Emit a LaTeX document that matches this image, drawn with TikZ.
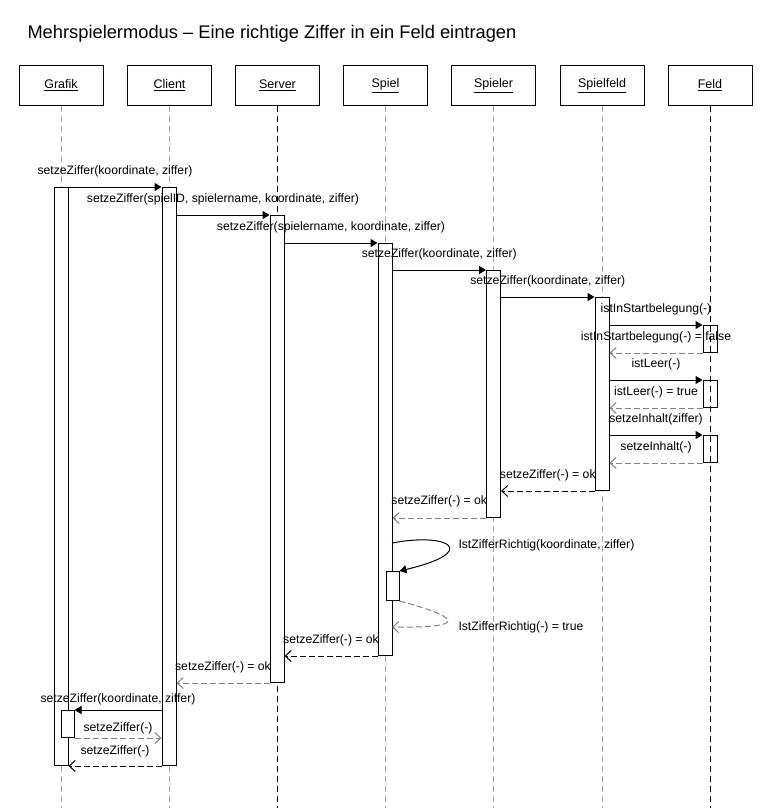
\documentclass[tikz,border=0pt]{standalone}
\usepackage{fontspec}
\setmainfont{Liberation Sans}
\usetikzlibrary{arrows.meta}

\begin{document}
\begin{tikzpicture}[x=1pt,y=-1pt,line width=1pt,
	   obj/.style={draw,minimum width=84pt,minimum height=39pt,inner sep=0pt,font=\fontsize{12.5}{14}\selectfont},
	   life/.style={dash pattern=on 6pt off 4pt,gray!70},
	   lifeblack/.style={dash pattern=on 6pt off 4pt,black},
	   act/.style={draw,fill=white,minimum width=14pt,inner sep=0pt,anchor=north},
	   call/.style={-{Triangle[length=7pt,width=8pt]}},
	   ret/.style={dash pattern=on 6pt off 3pt,gray,-{Straight Barb[length=6pt,width=11pt]}},
	   retblack/.style={ret,black},
	   lbl/.style={font=\fontsize{12.2}{14}\selectfont,text=black,inner sep=0pt,yshift=15.5pt}]
	   \useasboundingbox (0,0) rectangle (771,808);
	   \node [anchor=base west,inner sep=0pt,font=\fontsize{18.3}{21}\selectfont] (title) at (27,39) {Mehrspielermodus – Eine richtige Ziffer in ein Feld eintragen};
	   % objects
	   \node [obj] (hGrafik)    at (61,85.5)  {\underline{Grafik}};
	   \node [obj] (hClient)    at (169.5,85.5) {\underline{Client}};
	   \node [obj] (hServer)    at (277.5,85.5) {\underline{Server}};
	   \node [obj] (hSpiel)     at (385.5,85.5) {\underline{Spiel}};
	   \node [obj] (hSpieler)   at (493.5,85.5) {\underline{Spieler}};
	   \node [obj] (hSpielfeld) at (602,85.5)  {\underline{Spielfeld}};
	   \node [obj] (hFeld)      at (710,85.5)  {\underline{Feld}};
	   \foreach \n in {hGrafik,hClient,hSpiel,hSpieler,hSpielfeld}
	     \draw[life] (\n.south) -- ++(0,703);
	   \draw[lifeblack] (hServer.south) -- ++(0,703);
	   % activations
	   \node [act,minimum height=578pt] (aGrafik)    at (61,187) {};
	   \node [act,minimum height=578pt] (aClient)    at (169,187) {};
	   \node [act,minimum height=467pt] (aServer)    at (277,215) {};
	   \node [act,minimum height=412pt] (aSpiel)     at (385,243) {};
	   \node [act,minimum height=247pt] (aSpieler)   at (493.5,270) {};
	   \node [act,minimum height=193pt] (aSpielfeld) at (602,297) {};
	   \node [act,minimum height=27pt]  (aFeldA)     at (710,325) {};
	   \node [act,minimum height=27pt]  (aFeldB)     at (710,380) {};
	   \node [act,minimum height=27pt]  (aFeldC)     at (710,435) {};
	   \node [act,minimum height=29pt,minimum width=13pt] (aSpielSelf)  at (392.5,571) {};
	   \node [act,minimum height=27pt,minimum width=13pt] (aGrafikSelf) at (67.5,710) {};
	   \draw[lifeblack] (hFeld.south) -- ++(0,703);
	   \coordinate (selfOut) at (392,543);
	   \coordinate (selfIn)  at (392,627);
	   % messages
	   \draw[call] (aGrafik.north east) -- node[lbl] (l1) {setzeZiffer(koordinate, ziffer)} (aClient.north west);
	   \draw[call] (aClient.east |- aServer.north) -- node[lbl] (l2) {setzeZiffer(spielID, spielername, koordinate, ziffer)} (aServer.north west);
	   \draw[call] (aServer.east |- aSpiel.north) -- node[lbl] (l3) {setzeZiffer(spielername, koordinate, ziffer)} (aSpiel.north west);
	   \draw[call] (aSpiel.east |- aSpieler.north) -- node[lbl] (l4) {setzeZiffer(koordinate, ziffer)} (aSpieler.north west);
	   \draw[call] (aSpieler.east |- aSpielfeld.north) -- node[lbl] (l5) {setzeZiffer(koordinate, ziffer)} (aSpielfeld.north west);
	   \draw[call] (aSpielfeld.east |- aFeldA.north) -- node[lbl] (l6) {istInStartbelegung(-)} (aFeldA.north west);
	   \draw[ret] (aFeldA.south west) -- node[lbl] (l7) {istInStartbelegung(-) = false} (aSpielfeld.east |- aFeldA.south);
	   \draw[call] (aSpielfeld.east |- aFeldB.north) -- node[lbl] (l8) {istLeer(-)} (aFeldB.north west);
	   \draw[ret] (aFeldB.south west) -- node[lbl] (l9) {istLeer(-) = true} (aSpielfeld.east |- aFeldB.south);
	   \draw[call] (aSpielfeld.east |- aFeldC.north) -- node[lbl] (l10) {setzeInhalt(ziffer)} (aFeldC.north west);
	   \draw[ret] (aFeldC.south west) -- node[lbl] (l11) {setzeInhalt(-)} (aSpielfeld.east |- aFeldC.south);
	   \draw[retblack] (aSpielfeld.south west) -- node[lbl] (l12) {setzeZiffer(-) = ok} (aSpieler.east |- aSpielfeld.south);
	   \draw[ret] (aSpieler.south west) -- node[lbl,yshift=1.5pt] (l13) {setzeZiffer(-) = ok} (aSpiel.east |- aSpieler.south);
	   \draw[call] (selfOut) .. controls (450,532) and (480,552) .. (aSpielSelf.north east);
	   \node [lbl,yshift=-15.5pt,anchor=west] (l14) at (458,545) {IstZifferRichtig(koordinate, ziffer)};
	   \draw[ret] (aSpielSelf.south east) .. controls (470,620) and (460,628) .. (selfIn);
	   \node [lbl,yshift=-15.5pt,anchor=west] (l15) at (458,627) {IstZifferRichtig(-) = true};
	   \draw[retblack] (aSpiel.south west) -- node[lbl] (l16) {setzeZiffer(-) = ok} (aServer.east |- aSpiel.south);
	   \draw[ret] (aServer.south west) -- node[lbl] (l17) {setzeZiffer(-) = ok} (aClient.east |- aServer.south);
	   \draw[call] (aClient.west |- aGrafikSelf.north) -- node[lbl,yshift=-4.5pt] (l18) {setzeZiffer(koordinate, ziffer)} (aGrafikSelf.north east);
	   \draw[ret] (aGrafikSelf.south east) -- node[lbl,yshift=-5.5pt] (l19) {setzeZiffer(-)} (aClient.west |- aGrafikSelf.south);
	   \draw[retblack] (aClient.south west) -- node[lbl,yshift=-1pt] (l20) {setzeZiffer(-)} (aGrafik.south east);
\end{tikzpicture}
\end{document}
